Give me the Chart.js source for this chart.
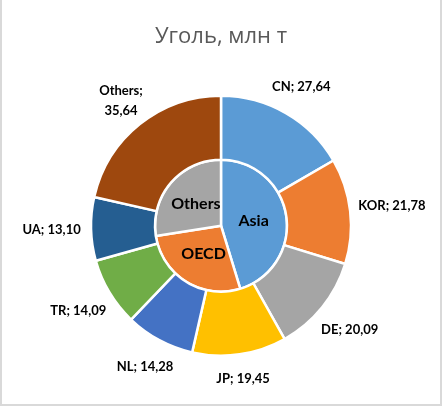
<!DOCTYPE html>
<html>
<head>
<meta charset="utf-8">
<script src="https://cdn.jsdelivr.net/npm/chart.js@4/dist/chart.umd.min.js"></script>
<style>
    body { margin: 0; background: #fff; }
    #wrap {
        width: 442px; height: 406px; box-sizing: border-box;
        border-left: 2px solid #d9d9d9; border-right: 2px solid #d9d9d9; border-bottom: 2px solid #d9d9d9;
    }
    #wrap canvas { display: block; }
</style>
</head>
<body>
<div id="wrap"><canvas id="chart-coal" width="438" height="404"></canvas></div>
<script>
// Страны (внешнее кольцо)
const countries = ['CN', 'KOR', 'DE', 'JP', 'NL', 'TR', 'UA', 'Others'];
const countryValues = [27.64, 21.78, 20.09, 19.45, 14.28, 14.09, 13.10, 35.64];
const countryColors = ['#5B9BD5', '#ED7D31', '#A5A5A5', '#FFC000', '#4472C4', '#70AD47', '#255E91', '#9E480E'];

// Регионы (внутренний круг)
const regions = ['Asia', 'OECD', 'Others'];
const regionValues = [75.2, 45.2, 45.7];
const regionColors = ['#5B9BD5', '#ED7D31', '#A5A5A5'];

const LABEL_FONT = 'bold 13px Lato, "Open Sans", sans-serif';
const INNER_FONT = 'bold 16px Lato, "Open Sans", sans-serif';

const fmt = v => v.toFixed(2).replace('.', ',');

// Подписи сегментов
const labelPlugin = {
    id: 'sliceLabels',
    afterDatasetsDraw(chart) {
        const ctx = chart.ctx;
        ctx.save();
        ctx.fillStyle = '#000';
        ctx.textAlign = 'center';
        ctx.textBaseline = 'middle';

        // внешнее кольцо - подписи снаружи
        ctx.font = LABEL_FONT;
        chart.getDatasetMeta(0).data.forEach((arc, i) => {
            const p = arc.getProps(['x', 'y', 'startAngle', 'endAngle', 'outerRadius']);
            const mid = (p.startAngle + p.endAngle) / 2;
            let text = countries[i] + '; ' + fmt(countryValues[i]);
            let lines = [text];
            if (ctx.measureText(text).width > 76) {
                lines = [countries[i] + ';', fmt(countryValues[i])];
            }
            const halfW = Math.max(...lines.map(l => ctx.measureText(l).width)) / 2;
            const r = p.outerRadius + 22 + halfW * Math.abs(Math.cos(mid)) * 0.6;
            const cx = p.x + Math.cos(mid) * r;
            const cy = p.y + Math.sin(mid) * r;
            const lh = 20;
            lines.forEach((l, k) => {
                ctx.fillText(l, cx, cy + (k - (lines.length - 1) / 2) * lh);
            });
        });

        // внутренний круг
        ctx.font = INNER_FONT;
        chart.getDatasetMeta(1).data.forEach((arc, i) => {
            const pos = arc.tooltipPosition();
            ctx.fillText(regions[i], pos.x, pos.y);
        });
        ctx.restore();
    }
};

const chartCoal = new Chart(document.getElementById('chart-coal'), {
    type: 'doughnut',
    data: {
        labels: countries,
        datasets: [{
            label: 'Страны',
            data: countryValues,
            backgroundColor: countryColors,
            borderColor: '#fff',
            borderWidth: 2.5,
            weight: 64
        }, {
            label: 'Регионы',
            data: regionValues,
            backgroundColor: regionColors,
            borderColor: '#fff',
            borderWidth: 2.5,
            weight: 66
        }]
    },
    options: {
        responsive: false,
        animation: false,
        cutout: 0,
        radius: 130,
        layout: { padding: { top: 0, bottom: 32 } },
        plugins: {
            legend: { display: false },
            tooltip: { enabled: false },
            title: {
                display: true,
                text: 'Уголь, млн т',
                color: '#595959',
                font: { family: '"Open Sans", sans-serif', size: 22, weight: 'normal' },
                padding: { top: 24, bottom: 29 }
            }
        }
    },
    plugins: [labelPlugin]
});
</script>
</body>
</html>
